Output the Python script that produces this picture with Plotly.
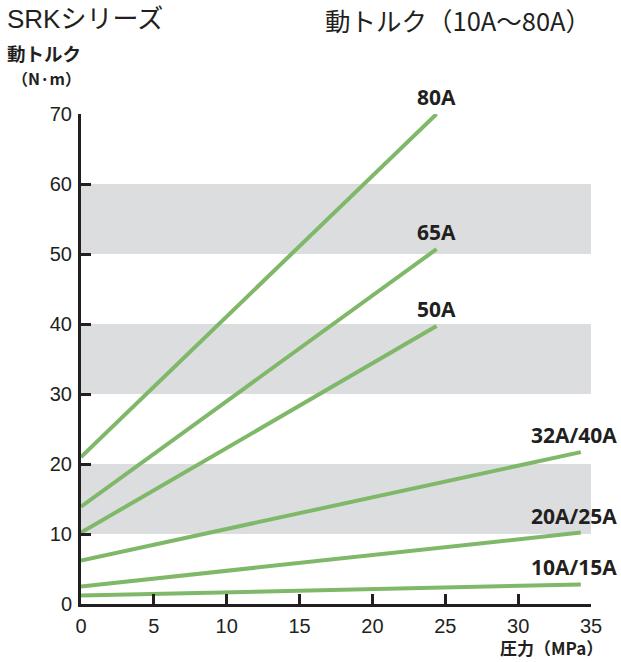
import plotly.graph_objects as go

series_names = ["80A", "65A", "50A", "32A/40A", "20A/25A", "10A/15A"]
pressure_start = [0, 0, 0, 0, 0, 0]
pressure_end = [24.4, 24.4, 24.4, 34.3, 34.3, 34.3]
torque_start = [21.0, 13.9, 10.2, 6.2, 2.5, 1.2]
torque_end = [70.0, 50.7, 39.7, 21.7, 10.2, 2.8]
band_ranges = [(10, 20), (30, 40), (50, 60)]
x_ticks = [0, 5, 10, 15, 20, 25, 30, 35]
y_ticks = [0, 10, 20, 30, 40, 50, 60, 70]

GREEN = "#80b86a"
DARK = "#231f20"
JP = "Noto Sans CJK JP"
NUM = "Liberation Sans, Arial"
LBL = "Open Sans"

# plot area in page pixels
PX0, PX1, PY0, PY1 = 81, 591, 114, 604


def px(x):
    return (x - PX0) / (PX1 - PX0)


def py(y):
    return (PY1 - y) / (PY1 - PY0)


fig = go.Figure()

for (y0, y1) in band_ranges:
    fig.add_shape(type="rect", xref="x", yref="y", x0=0, x1=35, y0=y0, y1=y1,
                  fillcolor="#dcdddf", line_width=0, layer="below")

for name, xs, xe, ys, ye in zip(series_names, pressure_start, pressure_end, torque_start, torque_end):
    fig.add_trace(go.Scatter(x=[xs, xe], y=[ys, ye], mode="lines",
                             line=dict(color=GREEN, width=4), name=name,
                             showlegend=False, hoverinfo="skip"))
    if xe < 30:
        fig.add_annotation(x=xe, y=ye, text="<b>" + name + "</b>", showarrow=False,
                           xanchor="center", yanchor="bottom", yshift=1,
                           font=dict(family=LBL, size=21, color=DARK))
    else:
        fig.add_annotation(x=35, y=ye, text="<b>" + name + "</b>", showarrow=False,
                           xanchor="right", yanchor="bottom", xshift=28, yshift=1,
                           font=dict(family=LBL, size=21, color=DARK))

fig.update_layout(
    width=621, height=662,
    margin=dict(l=PX0, r=621 - PX1, t=PY0, b=662 - PY1),
    plot_bgcolor="white", paper_bgcolor="white",
    xaxis=dict(range=[0, 35], tickvals=x_ticks, ticks="inside", ticklen=10, tickwidth=3,
               tickcolor=DARK, showline=True, linecolor=DARK, linewidth=3,
               showgrid=False, zeroline=False, ticklabelstandoff=2,
               tickfont=dict(family=NUM, size=20, color=DARK)),
    yaxis=dict(range=[0, 70], tickvals=y_ticks, ticks="inside", ticklen=10, tickwidth=3,
               tickcolor=DARK, showline=True, linecolor=DARK, linewidth=3,
               showgrid=False, zeroline=False, ticklabelstandoff=2,
               tickfont=dict(family=NUM, size=20, color=DARK)),
)

fig.add_annotation(xref="paper", yref="paper", x=px(5), y=py(19), xanchor="left", yanchor="middle",
                   text="SRKシリーズ", showarrow=False,
                   font=dict(family=NUM + ", " + JP, size=26, color=DARK))
fig.add_annotation(xref="paper", yref="paper", x=px(458), y=py(20), xanchor="center", yanchor="middle",
                   text="動トルク（10A～80A）", showarrow=False,
                   font=dict(family=JP, size=25.5, color=DARK))
fig.add_annotation(xref="paper", yref="paper", x=px(5), y=py(53), xanchor="left", yanchor="middle",
                   text="<b>動トルク</b>", showarrow=False,
                   font=dict(family=JP, size=18.5, color=DARK))
fig.add_annotation(xref="paper", yref="paper", x=px(46), y=py(78), xanchor="center", yanchor="middle",
                   text="<b>（N·m）</b>", showarrow=False,
                   font=dict(family=JP, size=16, color=DARK))
fig.add_annotation(xref="paper", yref="paper", x=px(551), y=py(662), xanchor="center", yanchor="bottom",
                   text="<b>圧力（MPa）</b>", showarrow=False,
                   font=dict(family=JP, size=17, color=DARK))

fig.write_html("out.html", config={"displayModeBar": False},
               post_script="document.body.style.margin='0';document.body.style.overflow='hidden';")
